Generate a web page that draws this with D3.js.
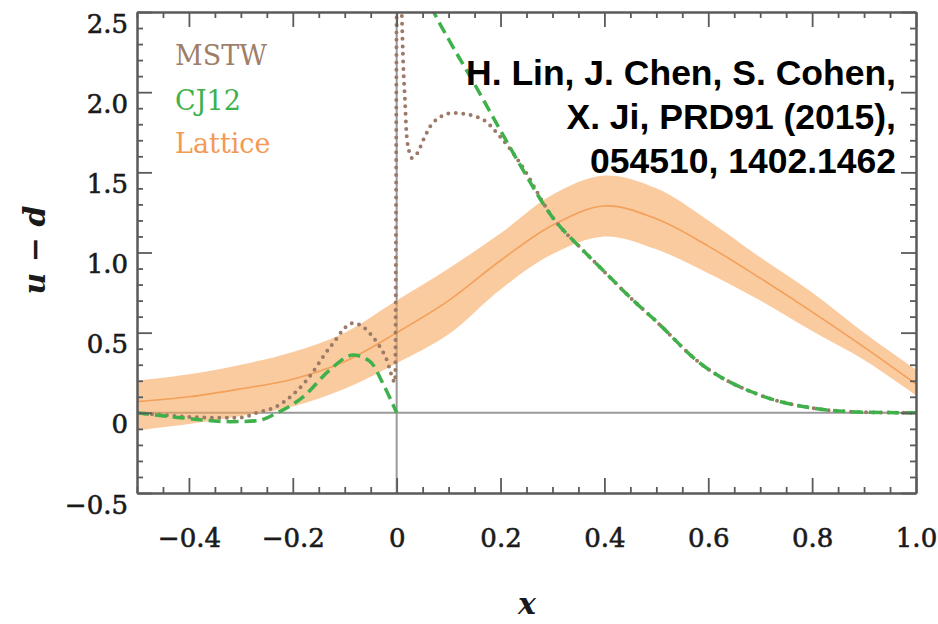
<!DOCTYPE html>
<html>
<head>
<meta charset="utf-8">
<script src="https://cdn.jsdelivr.net/npm/d3@7"></script>
<style>
  html, body { margin: 0; padding: 0; background: #fff; }
  svg { display: block; }
</style>
</head>
<body>
<svg id="chart" width="938" height="624"></svg>
<script>
// ---------------- data ----------------
const latticeX      = [-0.5, -0.4, -0.3, -0.2, -0.1, 0.0, 0.1, 0.2, 0.3, 0.4, 0.5, 0.6, 0.7, 0.8, 0.9, 1.0];
const latticeCenter = [0.07, 0.10, 0.15, 0.21, 0.32, 0.50, 0.70, 0.95, 1.17, 1.29, 1.21, 1.04, 0.84, 0.63, 0.41, 0.18];
const latticeHigh   = [0.20, 0.24, 0.30, 0.38, 0.50, 0.70, 0.90, 1.12, 1.36, 1.48, 1.40, 1.20, 0.97, 0.75, 0.50, 0.27];
const latticeLow    = [-0.11, -0.07, -0.02, 0.04, 0.15, 0.31, 0.49, 0.77, 0.99, 1.10, 1.02, 0.87, 0.70, 0.51, 0.33, 0.11];

const cj12NegX = [-0.5, -0.417, -0.32, -0.27, -0.23, -0.18, -0.128, -0.084, -0.051, -0.026, 0.0];
const cj12NegY = [0.0, -0.03, -0.055, -0.05, 0.0, 0.10, 0.27, 0.36, 0.32, 0.18, 0.0];
const cj12PosX = [0.03, 0.07, 0.1, 0.15, 0.2, 0.237, 0.3, 0.36, 0.4, 0.456, 0.5, 0.584, 0.7, 0.8, 0.9, 1.0];
const cj12PosY = [2.85, 2.51, 2.33, 2.05, 1.76, 1.55, 1.22, 1.01, 0.88, 0.70, 0.57, 0.31, 0.11, 0.03, 0.004, 0.0];

const mstwNegX = [-0.5, -0.45, -0.353, -0.30, -0.27, -0.231, -0.174, -0.128, -0.084, -0.045, -0.019, -0.003, 0.0];
const mstwNegY = [0.0, -0.014, -0.03, -0.03, 0.0, 0.04, 0.20, 0.41, 0.56, 0.47, 0.33, 0.19, 2.8];
const mstwPosX = [0.006, 0.0096, 0.0128, 0.016, 0.019, 0.024, 0.029, 0.04, 0.051, 0.07, 0.109, 0.16, 0.2, 0.237, 0.3, 0.36, 0.4, 0.456, 0.5, 0.584, 0.7, 0.8, 0.9, 1.0];
const mstwPosY = [2.8, 2.51, 2.16, 1.95, 1.74, 1.63, 1.59, 1.62, 1.70, 1.81, 1.87, 1.84, 1.72, 1.56, 1.22, 1.01, 0.88, 0.70, 0.57, 0.31, 0.11, 0.03, 0.004, 0.0];

const xMajorTicks = [-0.4, -0.2, 0, 0.2, 0.4, 0.6, 0.8, 1.0];
const xTickLabels = ["\u22120.4", "\u22120.2", "0", "0.2", "0.4", "0.6", "0.8", "1.0"];
const yMajorTicks = [-0.5, 0, 0.5, 1.0, 1.5, 2.0, 2.5];
const yTickLabels = ["\u22120.5", "0", "0.5", "1.0", "1.5", "2.0", "2.5"];

const legendNames  = ["MSTW", "CJ12", "Lattice"];
const legendColors = ["#a07e68", "#3fb14a", "#f39a55"];
const noteLines = ["H. Lin, J. Chen, S. Cohen,", "X. Ji, PRD91 (2015),", "054510, 1402.1462"];

// ---------------- layout ----------------
const L = 137, R = 916, T = 12, B = 493;
const svg = d3.select("#chart");
const x = d3.scaleLinear().domain([-0.5, 1.0]).range([L, R]);
const y = d3.scaleLinear().domain([-0.5, 2.5]).range([B, T]);

const serif = "'DejaVu Serif', serif";

svg.append("defs").append("clipPath").attr("id", "plotclip")
  .append("rect").attr("x", L).attr("y", T).attr("width", R - L).attr("height", B - T);

const plot = svg.append("g").attr("clip-path", "url(#plotclip)");

// zero lines
plot.append("line").attr("x1", L).attr("x2", R).attr("y1", y(0)).attr("y2", y(0))
  .attr("stroke", "#9a9a9a").attr("stroke-width", 2);
plot.append("line").attr("x1", x(0)).attr("x2", x(0)).attr("y1", T).attr("y2", B)
  .attr("stroke", "#9a9a9a").attr("stroke-width", 2);

// lattice band
const band = latticeX.map((v, i) => ({x: v, lo: latticeLow[i], hi: latticeHigh[i], c: latticeCenter[i]}));
plot.append("path").datum(band)
  .attr("d", d3.area().x(d => x(d.x)).y0(d => y(d.lo)).y1(d => y(d.hi)).curve(d3.curveCatmullRom))
  .attr("fill", "rgb(248,165,92)").attr("fill-opacity", 0.58);
plot.append("path").datum(band)
  .attr("d", d3.line().x(d => x(d.x)).y(d => y(d.c)).curve(d3.curveCatmullRom))
  .attr("fill", "none").attr("stroke", "#f3a05a").attr("stroke-width", 1.6);

// MSTW dotted
const lineMono = d3.line().x(d => x(d[0])).y(d => y(d[1])).curve(d3.curveMonotoneX);
[[mstwNegX, mstwNegY], [mstwPosX, mstwPosY]].forEach(([xs, ys]) => {
  plot.append("path").datum(xs.map((v, i) => [v, ys[i]]))
    .attr("d", lineMono)
    .attr("fill", "none").attr("stroke", "#9c7a68").attr("stroke-width", 4)
    .attr("stroke-linecap", "round").attr("stroke-dasharray", "0,7.5");
});

// CJ12 dashed
[[cj12NegX, cj12NegY], [cj12PosX, cj12PosY]].forEach(([xs, ys]) => {
  plot.append("path").datum(xs.map((v, i) => [v, ys[i]]))
    .attr("d", lineMono)
    .attr("fill", "none").attr("stroke", "#3fb14a").attr("stroke-width", 3.5)
    .attr("stroke-dasharray", "12,6");
});

// ---------------- axes / frame ----------------
const xMinor = d3.range(-0.5, 1.0001, 0.05).filter(v => !xMajorTicks.some(m => Math.abs(m - v) < 1e-6));
const yMinor = d3.range(-0.5, 2.5001, 0.1).filter(v => !yMajorTicks.some(m => Math.abs(m - v) < 1e-6));

function styleAxis(g) {
  g.select(".domain").attr("stroke", "#5a5a5a").attr("stroke-width", 2);
  g.selectAll(".tick line").attr("stroke", "#5a5a5a").attr("stroke-width", 1.8);
}
function styleLabels(sel) {
  sel.attr("font-family", serif).attr("font-size", 26).attr("fill", "#1a1a1a")
    .attr("stroke", "#1a1a1a").attr("stroke-width", 0.6);
}

// bottom
svg.append("g").attr("transform", `translate(0,${B})`)
  .call(d3.axisBottom(x).tickValues(xMinor).tickSize(-6).tickSizeOuter(0).tickFormat(""))
  .call(styleAxis);
const xb = svg.append("g").attr("transform", `translate(0,${B})`)
  .call(d3.axisBottom(x).tickValues(xMajorTicks).tickSize(-15).tickSizeOuter(0)
    .tickFormat((d, i) => xTickLabels[i]))
  .call(styleAxis);
xb.selectAll(".tick text").attr("y", 54).attr("dy", 0).call(styleLabels);

// top
svg.append("g").attr("transform", `translate(0,${T})`)
  .call(d3.axisTop(x).tickValues(xMinor).tickSize(-6).tickSizeOuter(0).tickFormat(""))
  .call(styleAxis);
svg.append("g").attr("transform", `translate(0,${T})`)
  .call(d3.axisTop(x).tickValues(xMajorTicks).tickSize(-15).tickSizeOuter(0).tickFormat(""))
  .call(styleAxis);

// left
svg.append("g").attr("transform", `translate(${L},0)`)
  .call(d3.axisLeft(y).tickValues(yMinor).tickSize(-6).tickSizeOuter(0).tickFormat(""))
  .call(styleAxis);
const yl = svg.append("g").attr("transform", `translate(${L},0)`)
  .call(d3.axisLeft(y).tickValues(yMajorTicks).tickSize(-15).tickSizeOuter(0)
    .tickFormat((d, i) => yTickLabels[i]))
  .call(styleAxis);
yl.selectAll(".tick text").attr("x", -9).attr("y", 20).attr("dy", 0).call(styleLabels);

// right
svg.append("g").attr("transform", `translate(${R},0)`)
  .call(d3.axisRight(y).tickValues(yMinor).tickSize(-6).tickSizeOuter(0).tickFormat(""))
  .call(styleAxis);
svg.append("g").attr("transform", `translate(${R},0)`)
  .call(d3.axisRight(y).tickValues(yMajorTicks).tickSize(-15).tickSizeOuter(0).tickFormat(""))
  .call(styleAxis);

// axis titles
svg.append("text").attr("transform", "translate(45,250) rotate(-90)")
  .attr("text-anchor", "middle").attr("font-family", serif).attr("font-style", "italic")
  .attr("font-weight", "bold").attr("font-size", 30).attr("fill", "#1a1a1a")
  .text("u \u2212 d");
svg.append("text").attr("x", 527).attr("y", 614)
  .attr("text-anchor", "middle").attr("font-family", serif).attr("font-style", "italic")
  .attr("font-weight", "bold").attr("font-size", 30).attr("fill", "#1a1a1a")
  .text("x");

// legend
const legendBaselines = [65, 110, 153];
svg.append("g").selectAll("text").data(legendNames).join("text")
  .attr("x", 175).attr("y", (d, i) => legendBaselines[i])
  .attr("font-family", serif).attr("font-size", 27)
  .attr("fill", (d, i) => legendColors[i])
  .text(d => d);

// annotation
const noteBaselines = [85, 129, 173];
svg.append("g").selectAll("text").data(noteLines).join("text")
  .attr("x", 896).attr("y", (d, i) => noteBaselines[i])
  .attr("text-anchor", "end")
  .attr("font-family", "'Liberation Sans', Arial, sans-serif").attr("font-weight", "bold")
  .attr("font-size", 35.5).attr("fill", "#000")
  .text(d => d);
</script>
</body>
</html>
